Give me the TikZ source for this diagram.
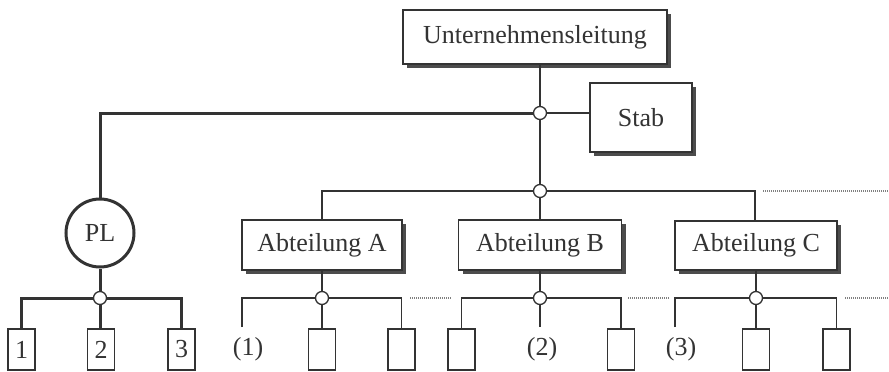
\documentclass[tikz,border=0pt]{standalone}
\usepackage{fontspec}
\setmainfont{Liberation Serif}
\usetikzlibrary{shadows}
\definecolor{ink}{gray}{0.2}
\begin{document}
\begin{tikzpicture}[x=1pt,y=-1pt,
  ink/.style={draw=ink,text=ink},
  bigbox/.style={ink,fill=white,line width=1.6pt,inner sep=0pt,
    font=\fontsize{26}{28}\selectfont,
    drop shadow={shadow xshift=4pt,shadow yshift=-4pt,fill=black!70,opacity=1}},
  small/.style={ink,fill=white,line width=1.5pt,minimum width=27pt,minimum height=41pt,inner sep=0pt,
    font=\fontsize{26}{28}\selectfont},
  junc/.style={circle,ink,fill=white,line width=1.3pt,minimum size=13pt,inner sep=0pt},
  thin/.style={draw=ink,line width=1.5pt},
  thick/.style={draw=ink,line width=3pt},
  dots/.style={draw=black!50,line width=1.6pt,dash pattern=on 1pt off 1pt},
  lab/.style={text=ink,inner sep=0pt,font=\fontsize{26}{28}\selectfont}]
\useasboundingbox[fill=white] (0,0) rectangle (889,372);

% top
\node[bigbox,minimum width=264pt,minimum height=54pt] (ul) at (535,37) {Unternehmensleitung};
\node[bigbox,minimum width=102pt,minimum height=69pt] (stab) at (641,117.5) {Stab};
\coordinate (j0) at (540,113);
\coordinate (j1) at (540,191);
\coordinate (pltop) at (100,113);

% departments
\node[bigbox,minimum width=160pt,minimum height=50pt] (da) at (322,245) {Abteilung A};
\node[bigbox,minimum width=163pt,minimum height=50pt] (db) at (540,245) {Abteilung B};
\node[bigbox,minimum width=162pt,minimum height=49pt] (dc) at (756,245.5) {Abteilung C};

% PL
\node[circle,draw=ink,line width=3pt,minimum size=68pt,inner sep=0pt,text=ink,fill=white,
  font=\fontsize{26}{28}\selectfont] (pl) at (100,233) {PL};
\coordinate (jp) at (100,298);

% lines top
\draw[thin] (ul.south -| j0) -- (j0);
\draw[thin] (j0) -- (j1);
\draw[thin] (j0) -- (j0 -| stab.west);
\draw[thick] (j0) -- (pltop) -- (pl.north);
\draw[thin] (da.north) -- (322,191) -- (j1) -- (755,191) -- (755,191 |- dc.north);
\draw[thin] (j1) -- (db.north);
\draw[dots] (763,191) -- (889,191);

% PL team
\node[small] (p1) at (21.5,349.5) {1};
\node[small] (p2) at (101,349.5) {2};
\node[small] (p3) at (181.5,349.5) {3};
\draw[thick] (pl.south) -- (jp);
\draw[thick] (p1.north) -- (p1.north |- jp) -- (p3.north |- jp) -- (p3.north);
\draw[thick] (jp) -- (jp |- p2.north);

% department A team
\coordinate (ja) at (322,298);
\coordinate (fa) at (242,327);
\node[small] (a2) at (322,349.5) {};
\node[small] (a3) at (401.5,349.5) {};
\draw[thin] (da.south) -- (ja);
\draw[thin] (fa) -- (fa |- ja) -- (a3.north |- ja) -- (a3.north);
\draw[thin] (ja) -- (a2.north);
\node[lab] (l1) at (248,349) {(1)};
\draw[dots] (410,298) -- (452,298);

% department B team
\coordinate (jb) at (540,298);
\coordinate (fb) at (540,327);
\node[small] (b1) at (461.5,349.5) {};
\node[small] (b3) at (621,349.5) {};
\draw[thin] (db.south) -- (jb);
\draw[thin] (b1.north) -- (b1.north |- jb) -- (b3.north |- jb) -- (b3.north);
\draw[thin] (jb) -- (fb);
\node[lab] (l2) at (542,349) {(2)};
\draw[dots] (628,298) -- (669,298);

% department C team
\coordinate (jc) at (756,298);
\coordinate (fc) at (675,327);
\node[small] (c2) at (756,349.5) {};
\node[small] (c3) at (836.5,349.5) {};
\draw[thin] (dc.south) -- (jc);
\draw[thin] (fc) -- (fc |- jc) -- (c3.north |- jc) -- (c3.north);
\draw[thin] (jc) -- (c2.north);
\node[lab] (l3) at (681,349) {(3)};
\draw[dots] (845,298) -- (889,298);

% junction circles
\node[junc] at (j0) {};
\node[junc] at (j1) {};
\node[junc] at (jp) {};
\node[junc] at (ja) {};
\node[junc] at (jb) {};
\node[junc] at (jc) {};
\end{tikzpicture}
\end{document}
